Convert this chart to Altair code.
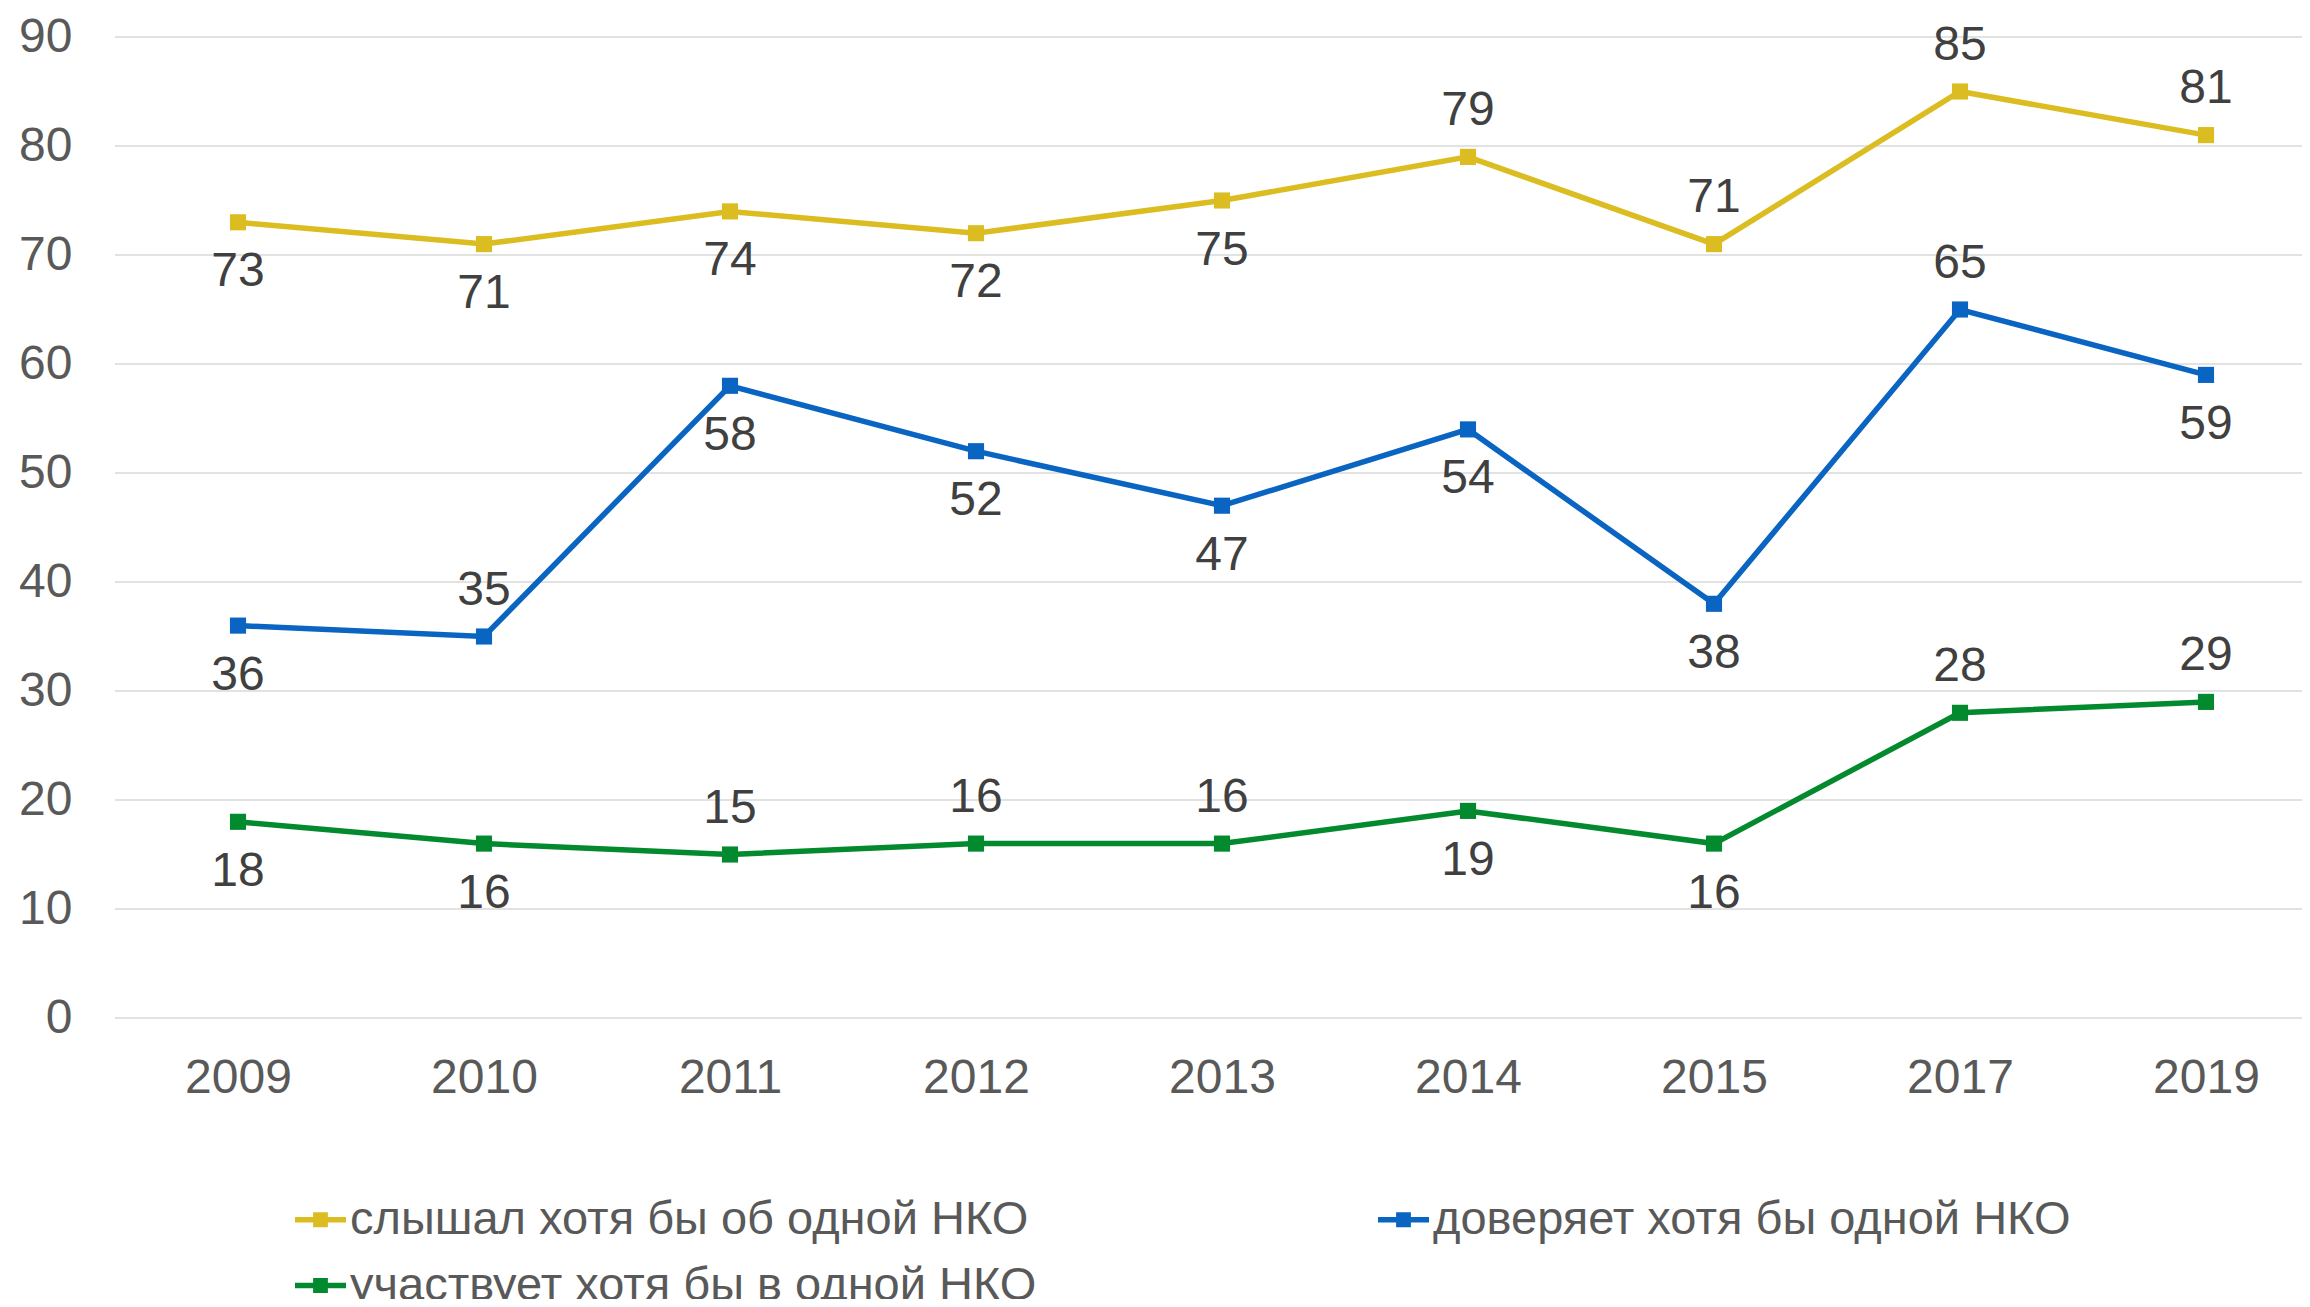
import altair as alt
import pandas as pd

years = ["2009", "2010", "2011", "2012", "2013", "2014", "2015", "2017", "2019"]
heard = [73, 71, 74, 72, 75, 79, 71, 85, 81]
trust = [36, 35, 58, 52, 47, 54, 38, 65, 59]
part = [18, 16, 15, 16, 16, 19, 16, 28, 29]
# order: column-major legend -> col1: heard, part; col2: trust
series_names = ["слышал хотя бы об одной НКО", "участвует хотя бы в одной НКО", "доверяет хотя бы одной НКО"]
series_values = [heard, part, trust]
colors = ["#DBBD22", "#048A2E", "#0A64C2"]
heard_pos = ["below", "below", "below", "below", "below", "above", "above", "above", "above"]
part_pos = ["below", "below", "above", "above", "above", "below", "below", "above", "above"]
trust_pos = ["below", "above", "below", "below", "below", "below", "below", "above", "below"]
series_pos = [heard_pos, part_pos, trust_pos]
y_ticks = [0, 10, 20, 30, 40, 50, 60, 70, 80, 90]

rows = []
for name, vals, pos in zip(series_names, series_values, series_pos):
    for yr, v, p in zip(years, vals, pos):
        rows.append({"year": yr, "value": v, "series": name, "pos": p})
df = pd.DataFrame(rows)
grid_df = pd.DataFrame({"value": y_ticks})

FONT = "Liberation Sans"
W, H = 2187, 981

x = alt.X("year:N", sort=years, title=None,
          scale=alt.Scale(type="point", range=[123, 2091], padding=0),
          axis=alt.Axis(labelAngle=0, domain=False, ticks=False, grid=False,
                        labelPadding=36, labelFontSize=48, labelColor="#595959", labelFont=FONT))
yscale = alt.Scale(domain=[0, 90], nice=False, zero=True)
y = alt.Y("value:Q", title=None, scale=yscale,
          axis=alt.Axis(values=y_ticks, domain=False, ticks=False, grid=False,
                        labelPadding=43, labelFontSize=48, labelColor="#595959", labelFont=FONT))
y_plain = alt.Y("value:Q", title=None, scale=yscale)
cscale = alt.Scale(domain=series_names, range=colors)

grid = alt.Chart(grid_df).mark_rule(color="#D9D9D9", strokeWidth=1.6).encode(
    y=y_plain, x=alt.value(0), x2=alt.value(W))

base = alt.Chart(df)

symbol_path = ("M-1,-0.11L-0.29,-0.11L-0.29,-0.29L0.29,-0.29L0.29,-0.11L1,-0.11L1,0.11"
               "L0.29,0.11L0.29,0.29L-0.29,0.29L-0.29,0.11L-1,0.11Z")

legend = alt.Legend(
    title=None, orient="none", legendX=180, legendY=1157, columns=2, padding=0,
    columnPadding=341, rowPadding=17, symbolType=symbol_path,
    symbolSize=2600, symbolStrokeWidth=0,
    labelFontSize=47, labelColor="#595959", labelFont=FONT, labelLimit=1200, labelOffset=4)

line = base.mark_line(strokeWidth=5.5, point=alt.OverlayMarkDef(shape="square", size=260, filled=True, opacity=1)).encode(
    x=x, y=y, color=alt.Color("series:N", scale=cscale, legend=legend))

above = base.transform_filter(alt.datum.pos == "above").mark_text(
    dy=-46, fontSize=48, color="#404040", font=FONT).encode(x=x, y=y, text="value:Q")
below = base.transform_filter(alt.datum.pos == "below").mark_text(
    dy=50, fontSize=48, color="#404040", font=FONT).encode(x=x, y=y, text="value:Q")

chart = alt.layer(grid, line, above, below).properties(
    width=W, height=H,
    autosize=alt.AutoSizeParams(type="none"),
    padding={"left": 107, "top": 29, "right": 0, "bottom": 281},
).configure_view(stroke=None)

chart.save("out.html", embed_options={"renderer": "svg", "actions": False})
